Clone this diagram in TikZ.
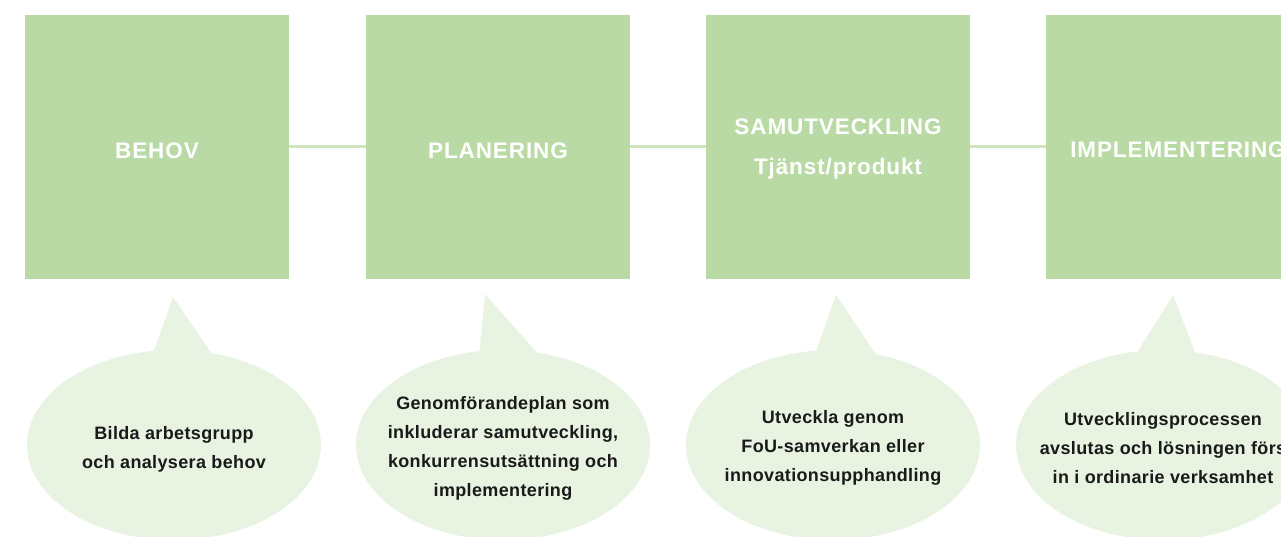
\documentclass[tikz,border=0pt]{standalone}
\usepackage{fontspec}
\setmainfont{Liberation Sans}
\newfontfamily\stagefont[LetterSpace=4]{Liberation Sans}
\newfontfamily\notefont[LetterSpace=2]{Liberation Sans}
\usetikzlibrary{shapes.geometric}
\definecolor{boxgreen}{RGB}{186,218,165}
\definecolor{linkgreen}{RGB}{206,230,192}
\definecolor{bubblegreen}{RGB}{232,243,225}
\definecolor{notetext}{RGB}{26,26,26}
\begin{document}
\begin{tikzpicture}[x=1pt,y=-1pt,
  stage/.style={rectangle, fill=boxgreen, minimum width=264pt, minimum height=264pt, inner sep=0pt},
  stagetitle/.style={text=white, font=\stagefont\fontsize{22.5}{40}\selectfont\bfseries, align=center, inner sep=0pt},
  link/.style={draw=linkgreen, line width=3pt},
  bubble/.style={ellipse, fill=bubblegreen, minimum width=294pt, minimum height=190pt, inner sep=0pt},
  pointer/.style={fill=bubblegreen},
  note/.style={font=\notefont\fontsize{18}{29}\selectfont\bfseries, text=notetext, align=center, inner sep=0pt}]
\useasboundingbox (0,0) rectangle (1281,537);
\clip (0,0) rectangle (1281,537);

% stage boxes
\node[stage, label={[stagetitle, yshift=-4pt]center:BEHOV}] (b1) at (157,147) {};
\node[stage, label={[stagetitle, yshift=-4pt]center:PLANERING}] (b2) at (498,147) {};
\node[stage, label={[stagetitle, yshift=-2pt]center:SAMUTVECKLING\\Tjänst/produkt}] (b3) at (838,147) {};
\node[stage, label={[stagetitle, yshift=-3pt]center:IMPLEMENTERING}] (b4) at (1178,147) {};

% links between stages
\draw[link] (b1.east) -- (b2.west);
\draw[link] (b2.east) -- (b3.west);
\draw[link] (b3.east) -- (b4.west);

% speech bubbles
\node[bubble] (e1) at (174,445) {};
\node[bubble] (e2) at (503,445) {};
\node[bubble] (e3) at (833,445) {};
\node[bubble] (e4) at (1163,445) {};

\coordinate (tip1) at (173,297);
\coordinate (tip2) at (485,294);
\coordinate (tip3) at (836,295);
\coordinate (tip4) at (1173,295);

\fill[pointer] (e1.102) -- (tip1) -- (e1.68) -- cycle;
\fill[pointer] (e2.104) -- (tip2) -- (e2.70) -- cycle;
\fill[pointer] (e3.100) -- (tip3) -- (e3.65) -- cycle;
\fill[pointer] (e4.105) -- (tip4) -- (e4.71) -- cycle;

% bubble texts
\node[note] (n1) at (174,449) {Bilda arbetsgrupp\\och analysera behov};
\node[note] (n2) at (503,448) {Genomförandeplan som\\inkluderar samutveckling,\\konkurrensutsättning och\\implementering};
\node[note] (n3) at (833,448) {Utveckla genom\\FoU-samverkan eller\\innovationsupphandling};
\node[note] (n4) at (1163,448) {Utvecklingsprocessen\\avslutas och lösningen förs\\in i ordinarie verksamhet};
\end{tikzpicture}
\end{document}
